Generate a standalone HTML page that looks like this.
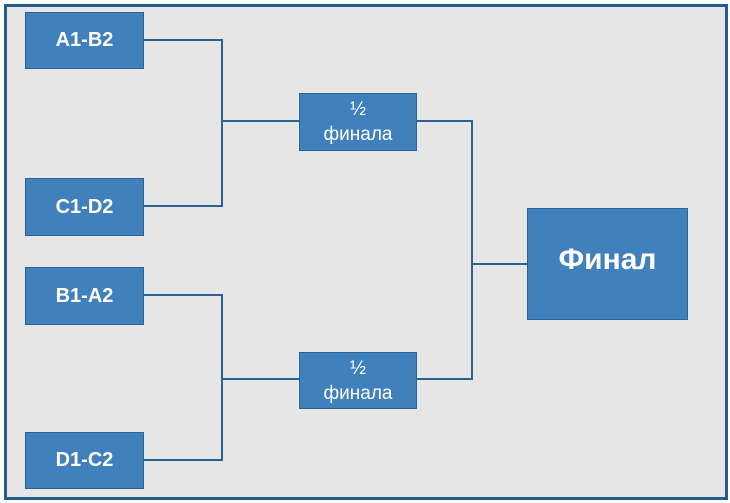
<!DOCTYPE html>
<html><head><meta charset="utf-8"><style>
html,body{margin:0;padding:0;width:730px;height:503px;overflow:hidden;background:#fff}
.f{position:absolute;left:4px;top:4px;width:718px;height:490px;border:3px solid #245d8a;background:#e6e6e6}
.b{position:absolute;background:#3f80bd;border:1px solid #2a6394;box-sizing:border-box;color:#fff;font-family:"Liberation Sans",sans-serif;display:flex;align-items:center;justify-content:center;text-align:center}
.t{font-weight:bold;font-size:20px}
.h{font-size:19px;line-height:25px;flex-direction:column}
.l{position:absolute;background:#2a6394}
</style></head><body>
<div class="f"></div>
<div class="l" style="left:144px;top:39px;width:79px;height:2px"></div>
<div class="l" style="left:221px;top:39px;width:2px;height:168px"></div>
<div class="l" style="left:144px;top:205px;width:79px;height:2px"></div>
<div class="l" style="left:221px;top:120px;width:78px;height:2px"></div>
<div class="l" style="left:144px;top:294px;width:79px;height:2px"></div>
<div class="l" style="left:221px;top:294px;width:2px;height:167px"></div>
<div class="l" style="left:144px;top:459px;width:79px;height:2px"></div>
<div class="l" style="left:221px;top:378px;width:78px;height:2px"></div>
<div class="l" style="left:417px;top:120px;width:56px;height:2px"></div>
<div class="l" style="left:471px;top:120px;width:2px;height:260px"></div>
<div class="l" style="left:417px;top:378px;width:56px;height:2px"></div>
<div class="l" style="left:471px;top:263px;width:56px;height:2px"></div>
<div class="b t" style="left:25px;top:12px;width:119px;height:57px">A1-B2</div>
<div class="b t" style="left:25px;top:178px;width:119px;height:58px">C1-D2</div>
<div class="b t" style="left:25px;top:267px;width:119px;height:58px">B1-A2</div>
<div class="b t" style="left:25px;top:432px;width:119px;height:57px">D1-C2</div>
<div class="b h" style="left:299px;top:93px;width:118px;height:58px"><span>½</span><span>финала</span></div>
<div class="b h" style="left:299px;top:352px;width:118px;height:57px"><span>½</span><span>финала</span></div>
<div class="b" style="left:527px;top:208px;width:161px;height:112px;font-weight:bold;font-size:30px;padding-bottom:8px">Финал</div>
</body></html>
